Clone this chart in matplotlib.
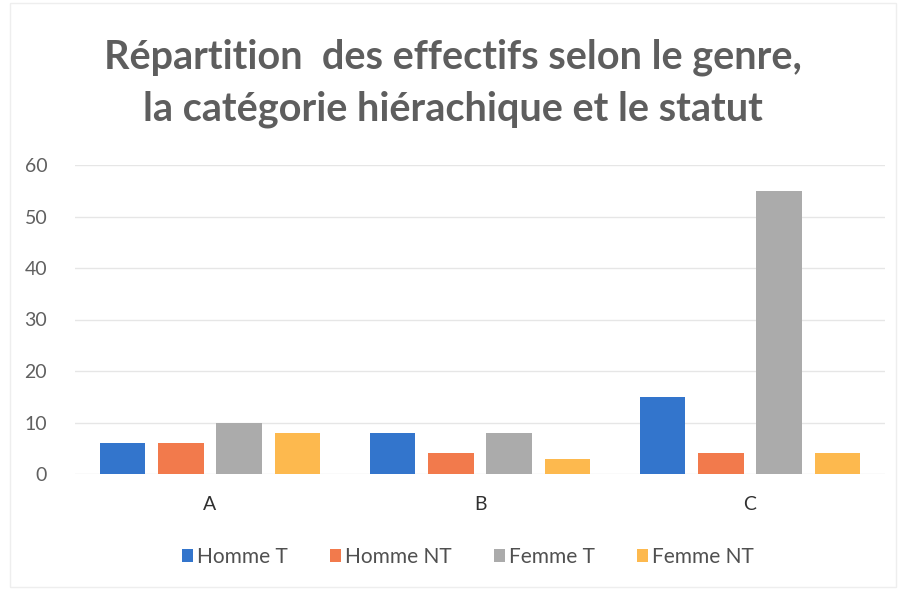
import matplotlib
matplotlib.use("Agg")
import matplotlib.pyplot as plt
import numpy as np

categories = ["A", "B", "C"]
series_names = ["Homme T", "Homme NT", "Femme T", "Femme NT"]
homme_t = [6, 8, 15]
homme_nt = [6, 4, 4]
femme_t = [10, 8, 55]
femme_nt = [8, 3, 4]
y_ticks = [0, 10, 20, 30, 40, 50, 60]

series = [homme_t, homme_nt, femme_t, femme_nt]
colors = ["#3375CC", "#F27A4C", "#ABABAB", "#FDB94E"]

plt.rcParams['font.family'] = ['Lato', 'DejaVu Sans']

fig = plt.figure(figsize=(9.06, 5.9), dpi=100)
ax = fig.add_axes([75/906, 1-474/590, (885-75)/906, (474-165)/590])

x = np.arange(len(categories))
slot = 0.216
width = 0.168
for i, (vals, c, name) in enumerate(zip(series, colors, series_names)):
    ax.bar(x + (i - 1.5) * slot, vals, width=width, color=c, label=name, zorder=3)

ax.set_xlim(-0.5, 2.5)
ax.set_ylim(0, 60)
ax.set_yticks(y_ticks)
ax.set_xticks(x)
ax.set_xticklabels(categories)
ax.grid(axis='y', color='#E6E6E6', linewidth=1, zorder=0)
for s in ax.spines.values():
    s.set_visible(False)
ax.tick_params(axis='both', length=0)
ax.tick_params(axis='y', labelsize=14, labelcolor='#606060', pad=20)
ax.tick_params(axis='x', labelsize=14, labelcolor='#303030', pad=16)

fig.text(0.5, 1-57/590, "Répartition  des effectifs selon le genre,", ha='center', va='center',
         fontsize=28.5, fontweight='bold', color='#5E5E5E')
fig.text(0.5, 1-109/590, "la catégorie hiérachique et le statut", ha='center', va='center',
         fontsize=28.5, fontweight='bold', color='#5E5E5E')

leg = fig.legend(loc='center', bbox_to_anchor=(468/906, 1-557/590), ncol=4, frameon=False,
                 fontsize=15, handlelength=0.55, handleheight=0.55, handletextpad=0.2,
                 columnspacing=2.0)
for t in leg.get_texts():
    t.set_color('#505050')

fig.patches.append(plt.Rectangle((10/906, 0.005), 1 - 20/906, 0.99, transform=fig.transFigure,
                                 fill=False, edgecolor='#EEEEEE', linewidth=1))

fig.savefig("out.png", dpi=100)
